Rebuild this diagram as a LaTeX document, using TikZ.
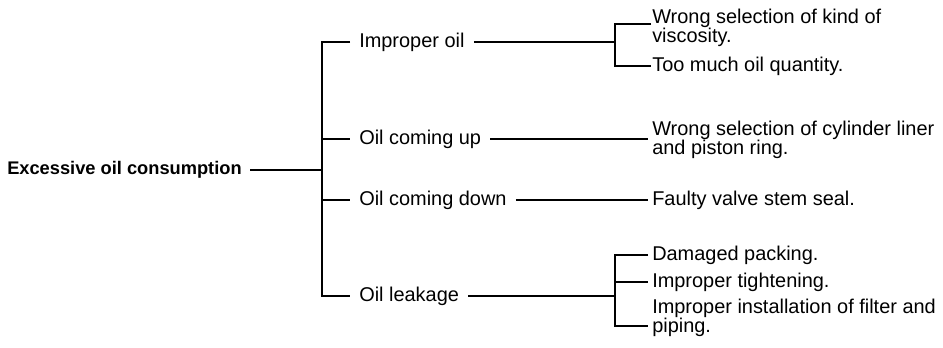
\documentclass[tikz,border=0pt]{standalone}
\usepackage{fontspec}
\setmainfont{Liberation Sans}
\setlength{\lineskiplimit}{-6pt}
\tikzset{
  rootnode/.style={anchor=east, inner xsep=0.08in, inner ysep=1pt,
    font=\fontsize{13.2pt}{13pt}\selectfont\bfseries},
  groupnode/.style={anchor=west, inner xsep=0.09in, inner ysep=1pt},
  causenode/.style={anchor=west, inner xsep=0.04in, inner ysep=1pt, align=left},
  branch/.style={line width=0.9pt, draw=black}
}
\begin{document}
\begin{tikzpicture}[x=1in,y=1in, font=\fontsize{14.4pt}{13.4pt}\selectfont]
  \useasboundingbox (0,0) rectangle (9.43,3.47);

  % root and first level
  \node[rootnode] (root) at (2.50,1.77) {Excessive oil consumption};
  \coordinate (trunk) at (3.22,1.77);

  \node[groupnode] (impoil) at (3.50,3.05) {Improper oil};
  \node[groupnode] (up) at (3.50,2.08) {Oil coming up};
  \node[groupnode] (down) at (3.50,1.47) {Oil coming down};
  \node[groupnode] (leak) at (3.50,0.51) {Oil leakage};

  \draw[branch] (root) -- (trunk);
  \draw[branch] (impoil.west) -| (trunk) |- (leak.west);
  \draw[branch] (trunk |- up.west) -- (up.west);
  \draw[branch] (trunk |- down.west) -- (down.west);

  % second level
  \coordinate (splitA) at (6.15,3.05);
  \coordinate (splitB) at (6.15,0.51);

  \node[causenode, inner xsep=0.01in] (kind) at (6.51,3.19) {Wrong selection of kind of\\viscosity.};
  \node[causenode, inner xsep=0.01in] (much) at (6.51,2.81) {Too much oil quantity.};
  \node[causenode] (cyl) at (6.48,2.07) {Wrong selection of cylinder liner\\and piston ring.};
  \node[causenode] (faulty) at (6.48,1.47) {Faulty valve stem seal.};
  \node[causenode] (dam) at (6.48,0.92) {Damaged packing.};
  \node[causenode] (tight) at (6.48,0.65) {Improper tightening.};
  \node[causenode] (inst) at (6.48,0.29) {Improper installation of filter and\\piping.};

  \draw[branch] (impoil) -- (splitA);
  \draw[branch] ([yshift=0.04in]kind.west) -| (splitA) |- (much.west);
  \draw[branch] (up) -- (up -| cyl.west);
  \draw[branch] (down) -- (faulty);
  \draw[branch] (leak) -- (splitB);
  \draw[branch] (dam.west) -| (splitB) |- ([yshift=-0.08in]inst.west);
  \draw[branch] (splitB |- tight.west) -- (tight.west);
\end{tikzpicture}
\end{document}
